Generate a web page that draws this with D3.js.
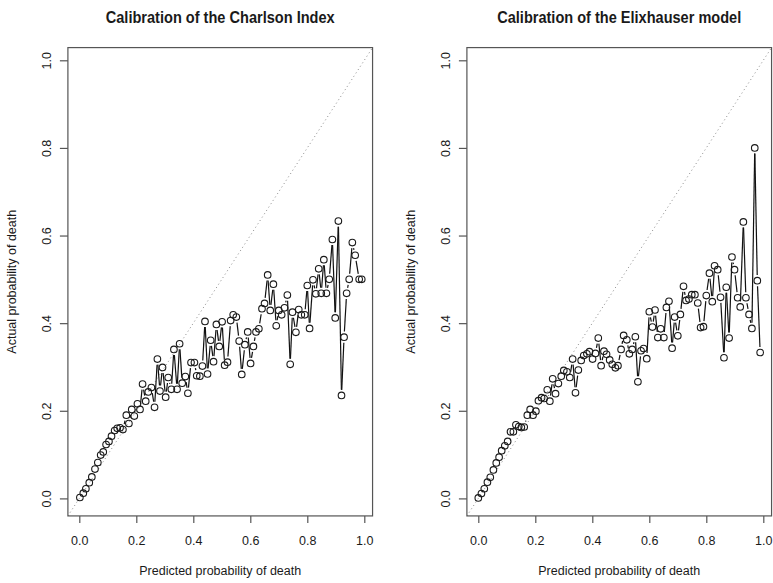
<!DOCTYPE html>
<html lang="en">
<head>
<meta charset="utf-8">
<title>Calibration plots</title>
<script src="https://d3js.org/d3.v7.min.js"></script>
<style>
  body { margin: 0; background: #fff; }
  svg text { font-family: "Liberation Sans", Arial, sans-serif; fill: #1a1a1a; }
</style>
</head>
<body>
<div id="chart"></div>
<script>
const width = 773
const height = 583

// ---- data ----
const charlsonPred = [0.002,0.014,0.023,0.035,0.044,0.055,0.065,0.075,0.084,0.094,0.104,0.113,0.124,0.133,0.143,0.153,0.165,0.174,0.184,0.193,
  0.204,0.213,0.222,0.233,0.242,0.253,0.264,0.274,0.283,0.292,0.303,0.312,0.323,0.332,0.343,0.352,0.361,0.372,0.381,0.392,
  0.404,0.412,0.423,0.432,0.441,0.450,0.461,0.471,0.481,0.491,0.501,0.510,0.520,0.531,0.540,0.551,0.561,0.570,0.581,0.591,
  0.601,0.611,0.620,0.630,0.641,0.650,0.661,0.670,0.681,0.691,0.700,0.710,0.720,0.730,0.740,0.748,0.760,0.770,0.779,0.791,
  0.800,0.808,0.820,0.830,0.840,0.849,0.858,0.867,0.877,0.888,0.898,0.909,0.920,0.929,0.938,0.947,0.958,0.968,0.982,0.991]
const charlsonObs = [0.002,0.012,0.022,0.036,0.049,0.067,0.082,0.099,0.106,0.123,0.130,0.142,0.155,0.160,0.161,0.157,0.190,0.171,0.203,0.188,
  0.216,0.203,0.261,0.222,0.243,0.253,0.208,0.318,0.245,0.299,0.231,0.276,0.249,0.340,0.249,0.353,0.263,0.278,0.240,0.310,
  0.310,0.280,0.279,0.302,0.404,0.284,0.361,0.312,0.397,0.347,0.403,0.304,0.311,0.406,0.419,0.414,0.359,0.283,0.351,0.380,
  0.308,0.347,0.380,0.387,0.433,0.445,0.510,0.429,0.489,0.394,0.429,0.419,0.435,0.464,0.306,0.425,0.379,0.431,0.419,0.419,
  0.486,0.388,0.499,0.467,0.524,0.468,0.545,0.468,0.500,0.591,0.412,0.633,0.235,0.368,0.468,0.500,0.584,0.555,0.500,0.500]

const elixPred = [0.000,0.011,0.021,0.032,0.042,0.053,0.063,0.073,0.082,0.093,0.103,0.113,0.123,0.132,0.142,0.151,0.161,0.172,0.182,0.192,
  0.202,0.211,0.222,0.231,0.242,0.251,0.261,0.271,0.281,0.291,0.300,0.311,0.321,0.331,0.341,0.351,0.361,0.370,0.381,0.390,
  0.401,0.411,0.421,0.431,0.441,0.450,0.461,0.470,0.481,0.490,0.501,0.510,0.521,0.530,0.540,0.551,0.560,0.571,0.580,0.591,
  0.600,0.611,0.620,0.630,0.640,0.651,0.660,0.669,0.680,0.689,0.700,0.709,0.720,0.729,0.739,0.749,0.760,0.770,0.780,0.790,
  0.800,0.811,0.821,0.829,0.840,0.850,0.862,0.870,0.880,0.890,0.899,0.910,0.919,0.930,0.939,0.950,0.960,0.970,0.979,0.989]
const elixObs = [0.001,0.011,0.022,0.037,0.048,0.065,0.081,0.094,0.109,0.120,0.130,0.152,0.152,0.168,0.164,0.162,0.163,0.190,0.203,0.190,
  0.199,0.223,0.230,0.228,0.248,0.222,0.273,0.239,0.262,0.279,0.292,0.289,0.276,0.318,0.241,0.293,0.315,0.326,0.330,0.335,
  0.318,0.331,0.366,0.303,0.336,0.329,0.316,0.306,0.298,0.303,0.340,0.372,0.362,0.330,0.340,0.369,0.266,0.337,0.342,0.319,
  0.426,0.391,0.430,0.367,0.387,0.367,0.436,0.450,0.343,0.414,0.371,0.420,0.484,0.452,0.455,0.465,0.465,0.446,0.390,0.392,
  0.463,0.514,0.449,0.531,0.522,0.459,0.321,0.482,0.366,0.551,0.522,0.458,0.437,0.631,0.458,0.420,0.388,0.800,0.497,0.333]

const tickValues = [0, 0.2, 0.4, 0.6, 0.8, 1.0]
const panels = [
  { title: 'Calibration of the Charlson Index', pred: charlsonPred, obs: charlsonObs, left: 79.3, titleLen: 229 },
  { title: 'Calibration of the Elixhauser model', pred: elixPred, obs: elixObs, left: 478.3, titleLen: 244 }
]
const xLabel = 'Predicted probability of death'
const yLabel = 'Actual probability of death'

// plot region in data units (R style 4% padding)
const lim = [-0.04, 1.029]

const svg = d3.select('#chart').append('svg')
  .attr('width', width)
  .attr('height', height)

svg.append('rect').attr('width', width).attr('height', height).attr('fill', '#fff')

panels.forEach((p, i) => {
  const xScale = d3.scaleLinear().domain([0, 1]).range([p.left, p.left + 285])
  const yScale = d3.scaleLinear().domain([0, 1]).range([498.4, 60.3])

  const x0 = xScale(lim[0]), x1 = xScale(lim[1])
  const y0 = yScale(lim[0]), y1 = yScale(lim[1])
  const g = svg.append('g')

  const clipId = 'clip' + i
  g.append('clipPath').attr('id', clipId)
    .append('rect').attr('x', x0).attr('y', y1).attr('width', x1 - x0).attr('height', y0 - y1)

  // reference diagonal
  g.append('line')
    .attr('clip-path', `url(#${clipId})`)
    .attr('x1', xScale(lim[0])).attr('y1', yScale(lim[0]))
    .attr('x2', xScale(lim[1])).attr('y2', yScale(lim[1]))
    .attr('stroke', '#8a8a8a')
    .attr('stroke-width', 1)
    .attr('stroke-dasharray', '1,3')

  // type="b" lines: segments with gaps around the points
  const pts = p.pred.map((d, k) => [xScale(d), yScale(p.obs[k])])
  const gap = 5.6
  const segs = []
  for (let k = 1; k < pts.length; k++) {
    const [ax, ay] = pts[k - 1], [bx, by] = pts[k]
    const dx = bx - ax, dy = by - ay
    const len = Math.hypot(dx, dy)
    if (len <= 2 * gap) continue
    const ux = dx / len, uy = dy / len
    segs.push([ax + ux * gap, ay + uy * gap, bx - ux * gap, by - uy * gap])
  }
  g.selectAll('line.seg')
    .data(segs)
    .enter()
    .append('line')
    .attr('class', 'seg')
    .attr('x1', d => d[0]).attr('y1', d => d[1])
    .attr('x2', d => d[2]).attr('y2', d => d[3])
    .attr('stroke', '#111')
    .attr('stroke-width', 1.2)

  g.selectAll('circle')
    .data(p.pred)
    .enter()
    .append('circle')
    .attr('cx', d => xScale(d))
    .attr('cy', (d, k) => yScale(p.obs[k]))
    .attr('r', 3.3)
    .attr('fill', 'none')
    .attr('stroke', '#1a1a1a')
    .attr('stroke-width', 1.1)

  // frame
  g.append('rect')
    .attr('x', x0).attr('y', y1)
    .attr('width', x1 - x0).attr('height', y0 - y1)
    .attr('fill', 'none')
    .attr('stroke', '#555')
    .attr('stroke-width', 1.2)

  // axes
  const xAxis = d3.axisBottom(xScale).tickValues(tickValues).tickFormat(d3.format('.1f'))
    .tickSize(7).tickSizeOuter(0).tickPadding(13)
  const xg = g.append('g').attr('transform', `translate(0, ${y0})`).call(xAxis)
  xg.select('.domain').remove()
  xg.selectAll('line').attr('stroke', '#555').attr('stroke-width', 1.2)
  xg.selectAll('text').style('font-size', '12.5px').attr('fill', '#1a1a1a')

  const yAxis = d3.axisLeft(yScale).tickValues(tickValues).tickFormat(d3.format('.1f'))
    .tickSize(8).tickSizeOuter(0)
  const yg = g.append('g').attr('transform', `translate(${x0}, 0)`).call(yAxis)
  yg.select('.domain').remove()
  yg.selectAll('line').attr('stroke', '#555').attr('stroke-width', 1.2)
  yg.selectAll('text')
    .attr('x', 0).attr('dy', 0)
    .attr('text-anchor', 'middle')
    .attr('transform', 'translate(-17,0) rotate(-90)')
    .style('font-size', '12.5px').attr('fill', '#1a1a1a')

  // titles
  const cx = (x0 + x1) / 2
  g.append('text')
    .attr('x', cx).attr('y', 23)
    .attr('text-anchor', 'middle')
    .attr('textLength', p.titleLen)
    .attr('lengthAdjust', 'spacingAndGlyphs')
    .style('font-size', '16.5px')
    .style('font-weight', 'bold')
    .text(p.title)

  g.append('text')
    .attr('x', cx).attr('y', 575)
    .attr('text-anchor', 'middle')
    .style('font-size', '12.5px')
    .text(xLabel)

  g.append('text')
    .attr('transform', `translate(${x0 - 51.5}, ${(y0 + y1) / 2}) rotate(-90)`)
    .attr('text-anchor', 'middle')
    .style('font-size', '12.5px')
    .text(yLabel)
})
</script>
</body>
</html>
